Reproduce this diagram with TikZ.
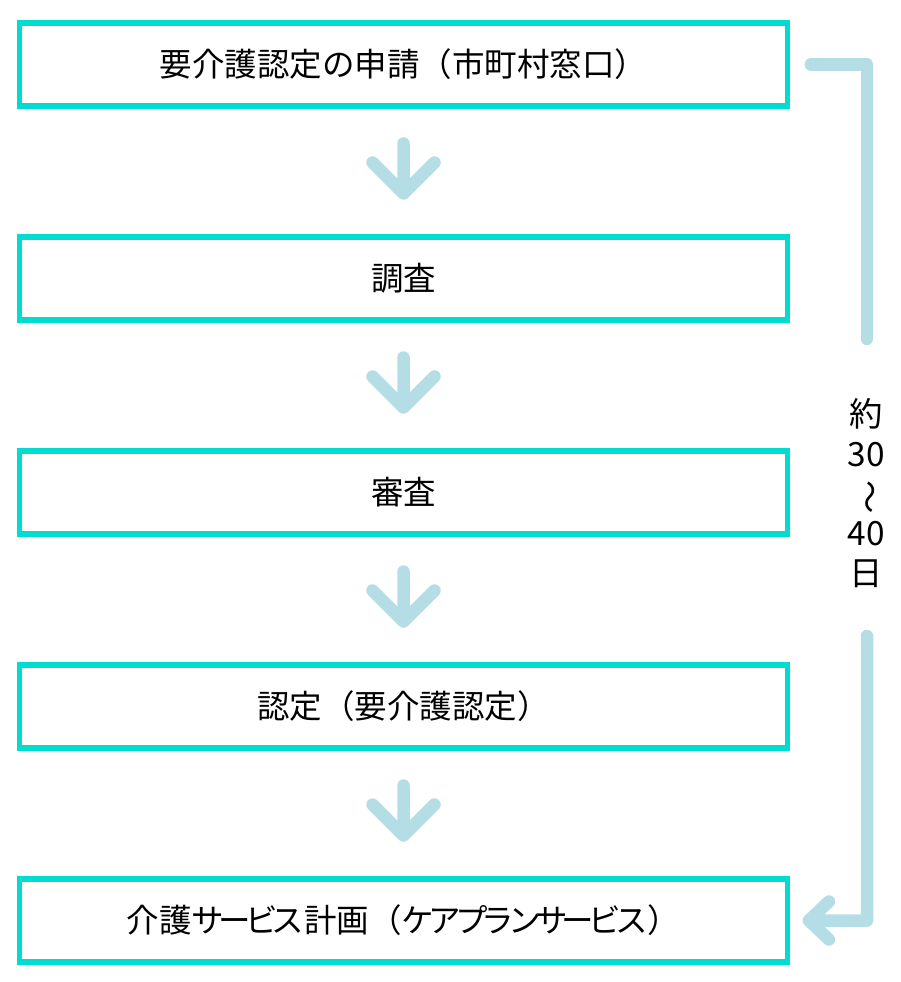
\documentclass[tikz,border=0pt]{standalone}
\usepackage{fontspec}
\setmainfont{Noto Sans CJK JP}
\newfontfamily\kanafont[LetterSpace=-18]{Noto Sans CJK JP}
\usepackage{xcolor}
\definecolor{boxcyan}{HTML}{00DDD0}
\definecolor{arrowblue}{HTML}{B5DDE6}
\usetikzlibrary{calc}

\begin{document}
\begin{tikzpicture}[x=0.02cm, y=-0.02cm,
    stepbox/.style={draw=boxcyan, line width=0.11cm, minimum width=15.36cm, minimum height=1.66cm,
      inner sep=0pt, outer sep=0pt, font=\fontsize{18.5}{22}\selectfont},
    chev/.style={draw=arrowblue, line width=0.25cm, line cap=round, line join=round},
    bracket/.style={chev}]
    \useasboundingbox (0,0) rectangle (900,982);

    % Steps
    \node[stepbox] (b1) at (403.5,64.5) {要介護認定の申請（市町村窓口）};
    \node[stepbox] (b2) at (403.5,278.5) {調査};
    \node[stepbox] (b3) at (403.5,492.5) {審査};
    \node[stepbox] (b4) at (403.5,706.5) {認定（要介護認定）};
    \node[stepbox] (b5) at (403.5,920.5)
      {介護{\kanafont サービス}計画（{\kanafont ケアプランサービス}）};

    % Down arrows between the steps
    \draw[chev] ($(b1)!0.5!(b2)+(0,-28)$) -- ++(0,50) coordinate (t1) ++(-31,-31) -- (t1) -- ++(31,-31);
    \draw[chev] ($(b2)!0.5!(b3)+(0,-28)$) -- ++(0,50) coordinate (t2) ++(-31,-31) -- (t2) -- ++(31,-31);
    \draw[chev] ($(b3)!0.5!(b4)+(0,-28)$) -- ++(0,50) coordinate (t3) ++(-31,-31) -- (t3) -- ++(31,-31);
    \draw[chev] ($(b4)!0.5!(b5)+(0,-28)$) -- ++(0,50) coordinate (t4) ++(-31,-31) -- (t4) -- ++(31,-31);

    % Duration bracket on the right
    \coordinate (brtop) at (867,339);
    \coordinate (brbot) at (867,636);
    \draw[bracket] ([xshift=0.47cm]b1.east) -| (brtop);
    \draw[bracket] (brbot) |- ([xshift=0.43cm]b5.east) coordinate (bt) ++(20,-19) -- (bt) -- ++(20,19);
    \node[align=center, font=\fontsize{19}{22.6}\selectfont] (days) at (866,493)
      {約\\30\\\smash{\rotatebox[origin=c]{-90}{〜}}\\40\\日};
\end{tikzpicture}
\end{document}
